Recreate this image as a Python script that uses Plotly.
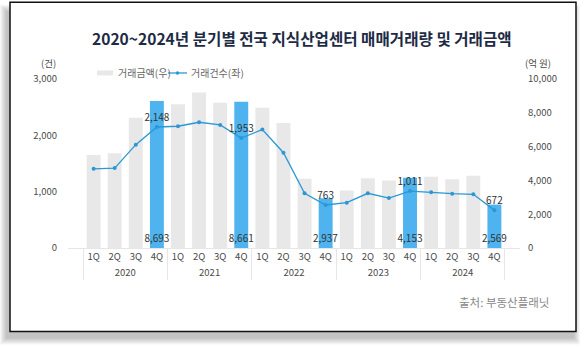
import plotly.graph_objects as go

# ---- data ----
years = ["2020"] * 4 + ["2021"] * 4 + ["2022"] * 4 + ["2023"] * 4 + ["2024"] * 4
quarters = ["1Q", "2Q", "3Q", "4Q"] * 5
amount = [5500, 5600, 7700, 8693, 8500, 9200, 8600, 8661, 8300, 7400, 4100, 2937,
          3400, 4130, 4000, 4153, 4220, 4070, 4280, 2569]          # 거래금액 (억 원)
count = [1405, 1418, 1834, 2148, 2161, 2232, 2185, 1953, 2102, 1691, 971, 763,
         804, 971, 887, 1011, 989, 964, 953, 672]                  # 거래건수 (건)

FONT = "Noto Sans CJK KR, Noto Sans, sans-serif"
GRAY_BAR = "#e8e8e8"
BLUE_BAR = "#4eb3ee"
LINE = "#2b98d5"
TXT = "#4a4a4a"

bar_colors = [BLUE_BAR if q == "4Q" else GRAY_BAR for q in quarters]
bar_text = [f"{v:,}" if q == "4Q" else "" for v, q in zip(amount, quarters)]
line_text = [f"{v:,}" if q == "4Q" else "" for v, q in zip(count, quarters)]

W, H = 585, 348
L, R, T, B = 68, 520, 79, 247.7


def px(x):
    return (x - L) / (R - L)


def py(y):
    return (B - y) / (B - T)


fig = go.Figure()
fig.add_trace(go.Bar(
    x=[years, quarters], y=amount, yaxis="y",
    marker=dict(color=bar_colors, line=dict(width=0)),
    width=0.66,
    text=bar_text, textposition="inside", insidetextanchor="start",
    textangle=0, constraintext="none",
    textfont=dict(family=FONT, size=10, color="#333333"),
    name="거래금액(우)", hoverinfo="skip",
))
fig.add_trace(go.Scatter(
    x=[years, quarters], y=count, yaxis="y2",
    mode="lines+markers+text",
    line=dict(color=LINE, width=1.3),
    marker=dict(color=LINE, size=4),
    text=line_text, textposition="top center",
    textfont=dict(family=FONT, size=10, color="#333333"),
    name="거래건수(좌)", cliponaxis=False,
))

shapes = []
# card shadow
for k in range(7):
    shapes.append(dict(
        type="rect", xref="paper", yref="paper", layer="below",
        x0=px(10 - 4 - k), x1=px(576 - 2 + k), y0=py(331 + 7 + k), y1=py(2 + 9 - k),
        line=dict(width=0), fillcolor="rgba(0,0,0,0.035)",
    ))
# card
shapes.append(dict(
    type="rect", xref="paper", yref="paper", layer="below",
    x0=px(10), x1=px(576), y0=py(331), y1=py(2.5),
    line=dict(color="#111111", width=1.5), fillcolor="white",
))
# legend symbols
shapes.append(dict(
    type="rect", xref="paper", yref="paper",
    x0=px(97), x1=px(113), y0=py(75.5), y1=py(70.5),
    line=dict(width=0), fillcolor=GRAY_BAR,
))
shapes.append(dict(
    type="line", xref="paper", yref="paper",
    x0=px(168), x1=px(187), y0=py(73), y1=py(73),
    line=dict(color=LINE, width=1.3),
))
shapes.append(dict(
    type="circle", xref="paper", yref="paper",
    x0=px(175.8), x1=px(179.2), y0=py(74.7), y1=py(71.3),
    line=dict(width=0), fillcolor=LINE,
))

annotations = [
    dict(text="<b>2020~2024년 분기별 전국 지식산업센터 매매거래량 및 거래금액</b>",
         x=px(301.5), y=py(38.5), xref="paper", yref="paper", showarrow=False,
         xanchor="center", yanchor="middle",
         font=dict(family=FONT, size=15.6, color="#1d2b45")),
    dict(text="(건)", x=px(48), y=py(63), xref="paper", yref="paper", showarrow=False,
         xanchor="center", yanchor="middle", font=dict(family=FONT, size=9.5, color=TXT)),
    dict(text="(억 원)", x=px(538), y=py(63), xref="paper", yref="paper", showarrow=False,
         xanchor="center", yanchor="middle", font=dict(family=FONT, size=9.5, color=TXT)),
    dict(text="거래금액(우)", x=px(116), y=py(73), xref="paper", yref="paper", showarrow=False,
         xanchor="left", yanchor="middle", font=dict(family=FONT, size=10, color="#666666")),
    dict(text="거래건수(좌)", x=px(189), y=py(73), xref="paper", yref="paper", showarrow=False,
         xanchor="left", yanchor="middle", font=dict(family=FONT, size=10, color="#666666")),
    dict(text="출처: 부동산플래닛", x=px(551), y=py(302), xref="paper", yref="paper",
         showarrow=False, xanchor="right", yanchor="middle",
         font=dict(family=FONT, size=11.5, color="#888888")),
]

fig.update_layout(
    width=W, height=H,
    margin=dict(l=L, r=W - R, t=T, b=H - B),
    paper_bgcolor="white", plot_bgcolor="rgba(0,0,0,0)",
    showlegend=False,
    font=dict(family=FONT, size=10, color=TXT),
    shapes=shapes, annotations=annotations,
    bargap=0.34,
    xaxis=dict(
        type="multicategory", showgrid=False, zeroline=False,
        showline=True, linecolor="#e6e6e6", linewidth=1,
        showdividers=True, dividercolor="#e6e6e6", dividerwidth=1,
        ticks="", tickfont=dict(family=FONT, size=9.5, color=TXT),
    ),
    yaxis=dict(
        side="right", range=[0, 10000], dtick=2000, tickformat=",",
        showgrid=False, zeroline=False, showline=False, ticks="",
        ticklabelstandoff=7,
        tickfont=dict(family=FONT, size=9.5, color=TXT),
    ),
    yaxis2=dict(
        side="left", overlaying="y", range=[0, 3000], dtick=1000, tickformat=",",
        showgrid=False, zeroline=False, showline=False, ticks="",
        ticklabelstandoff=10,
        tickfont=dict(family=FONT, size=9.5, color=TXT),
    ),
)

fig.write_html("out.html")
